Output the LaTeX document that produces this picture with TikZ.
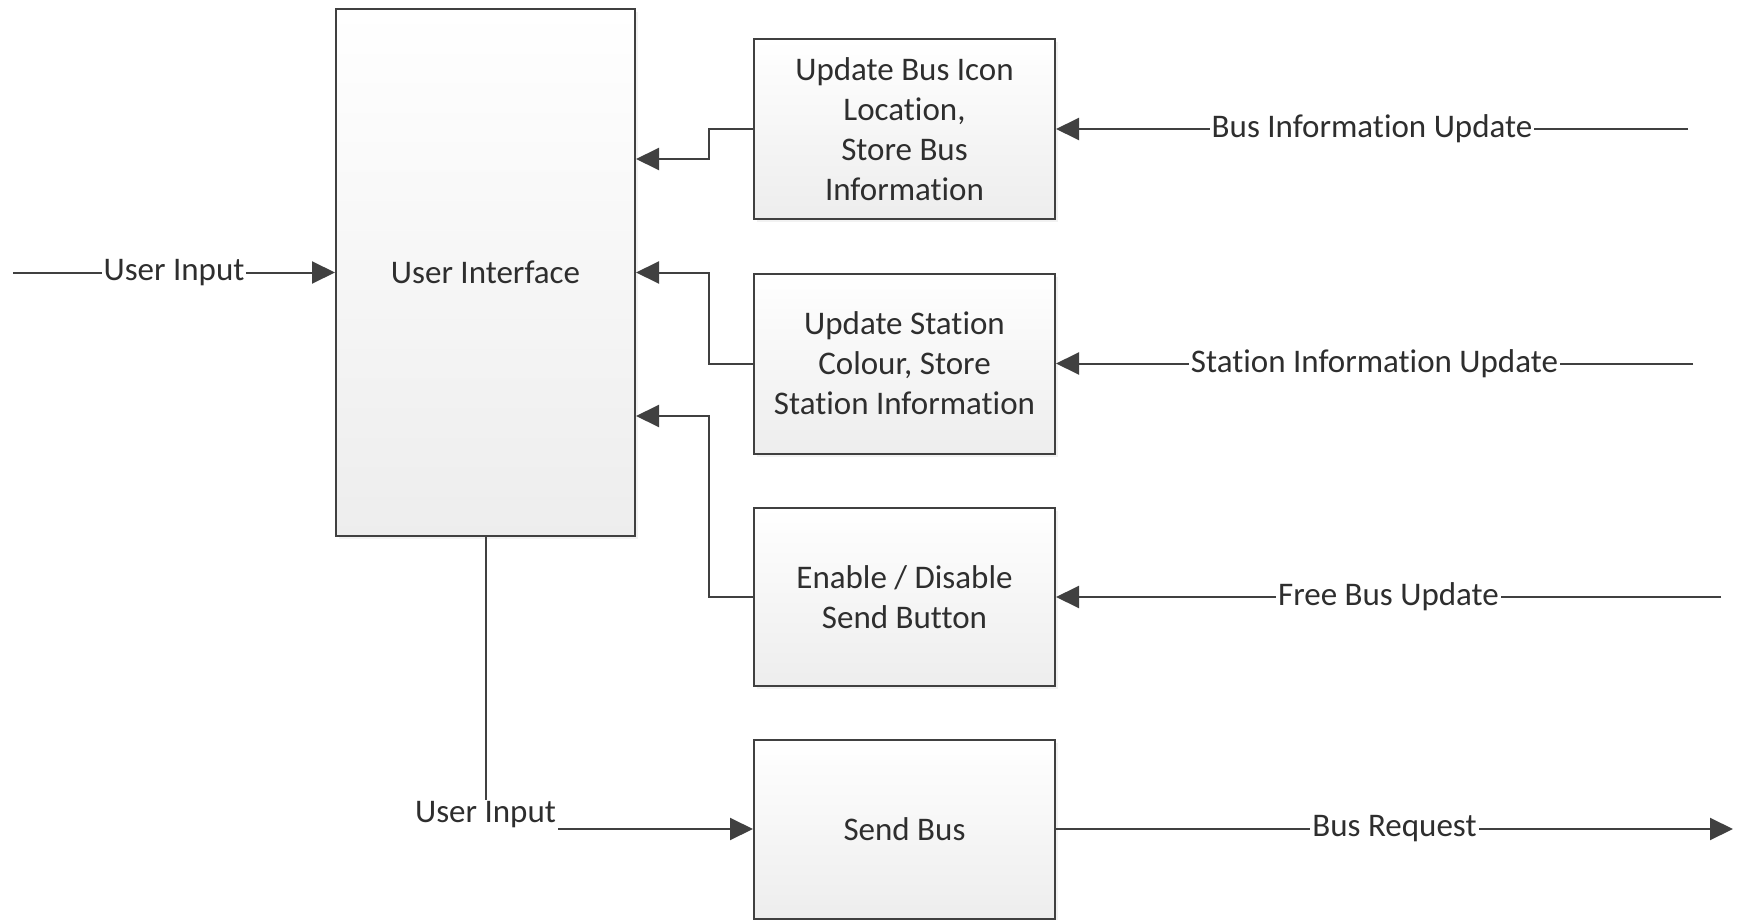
\documentclass[tikz,border=0pt]{standalone}
\usepackage{fontspec}
\setmainfont[Ligatures=NoCommon]{Carlito}
\usetikzlibrary{positioning,arrows.meta,shadows}
\definecolor{linegray}{HTML}{404040}
\definecolor{textgray}{HTML}{2E2E2E}

\begin{document}
\begin{tikzpicture}[x=0.5pt,y=-0.5pt,
        font=\fontsize{16.5}{20}\selectfont,
        block/.style={shape=rectangle,draw=linegray,line width=1pt,align=center,text=textgray,
                      top color=white,bottom color=black!7,
                      drop shadow={shadow xshift=1.5pt,shadow yshift=-1.5pt,opacity=0.1}},
        flow/.style={draw=linegray,line width=1pt,-{Triangle[length=11.5pt,width=11pt]}},
        lbl/.style={fill=white,inner sep=1pt,text=textgray},
        ]
\useasboundingbox (0,0) rectangle (1741,920);

\node [block, minimum width=149.5pt, minimum height=263.5pt] (ui) at (485.5,272.5) {User Interface};
\node [block, minimum width=150.5pt, minimum height=90pt] (upd1) at (904.5,129) {Update Bus Icon\\Location,\\Store Bus\\Information};
\node [block, minimum width=150.5pt, minimum height=90pt] (upd2) at (904.5,363.5) {Update Station\\Colour, Store\\Station Information};
\node [block, minimum width=150.5pt, minimum height=89pt] (upd3) at (904.5,597) {Enable / Disable\\Send Button};
\node [block, minimum width=150.5pt, minimum height=89.5pt] (send) at (904.5,829) {Send Bus};

\coordinate (userin) at (13,272.5);
\coordinate (src1) at (1688,129);
\coordinate (src2) at (1693,363.5);
\coordinate (src3) at (1721,597);
\coordinate (req) at (1733,829);

    % inputs from the right
    \path (src1) edge[flow] node[lbl]{Bus Information Update} (upd1);
    \path (src2) edge[flow] node[lbl]{Station Information Update} (upd2);
    \path (src3) edge[flow] node[lbl]{Free Bus Update} (upd3);

    % into the user interface
    \path (userin) edge[flow] node[lbl]{User Input} (ui);
    \draw[flow] (upd1.west) -- ++(-44,0) |- ([yshift=56.75pt]ui.east);
    \draw[flow] (upd2.west) -- ++(-44,0) |- (ui.east);
    \draw[flow] (upd3.west) -- ++(-44,0) |- ([yshift=-71.75pt]ui.east);

    % out of the user interface
    \draw[flow] (ui.south) |- node[lbl,pos=0.5,yshift=7pt]{User Input} (send.west);
    \path (send) edge[flow] node[lbl]{Bus Request} (req);

\end{tikzpicture}
\end{document}
